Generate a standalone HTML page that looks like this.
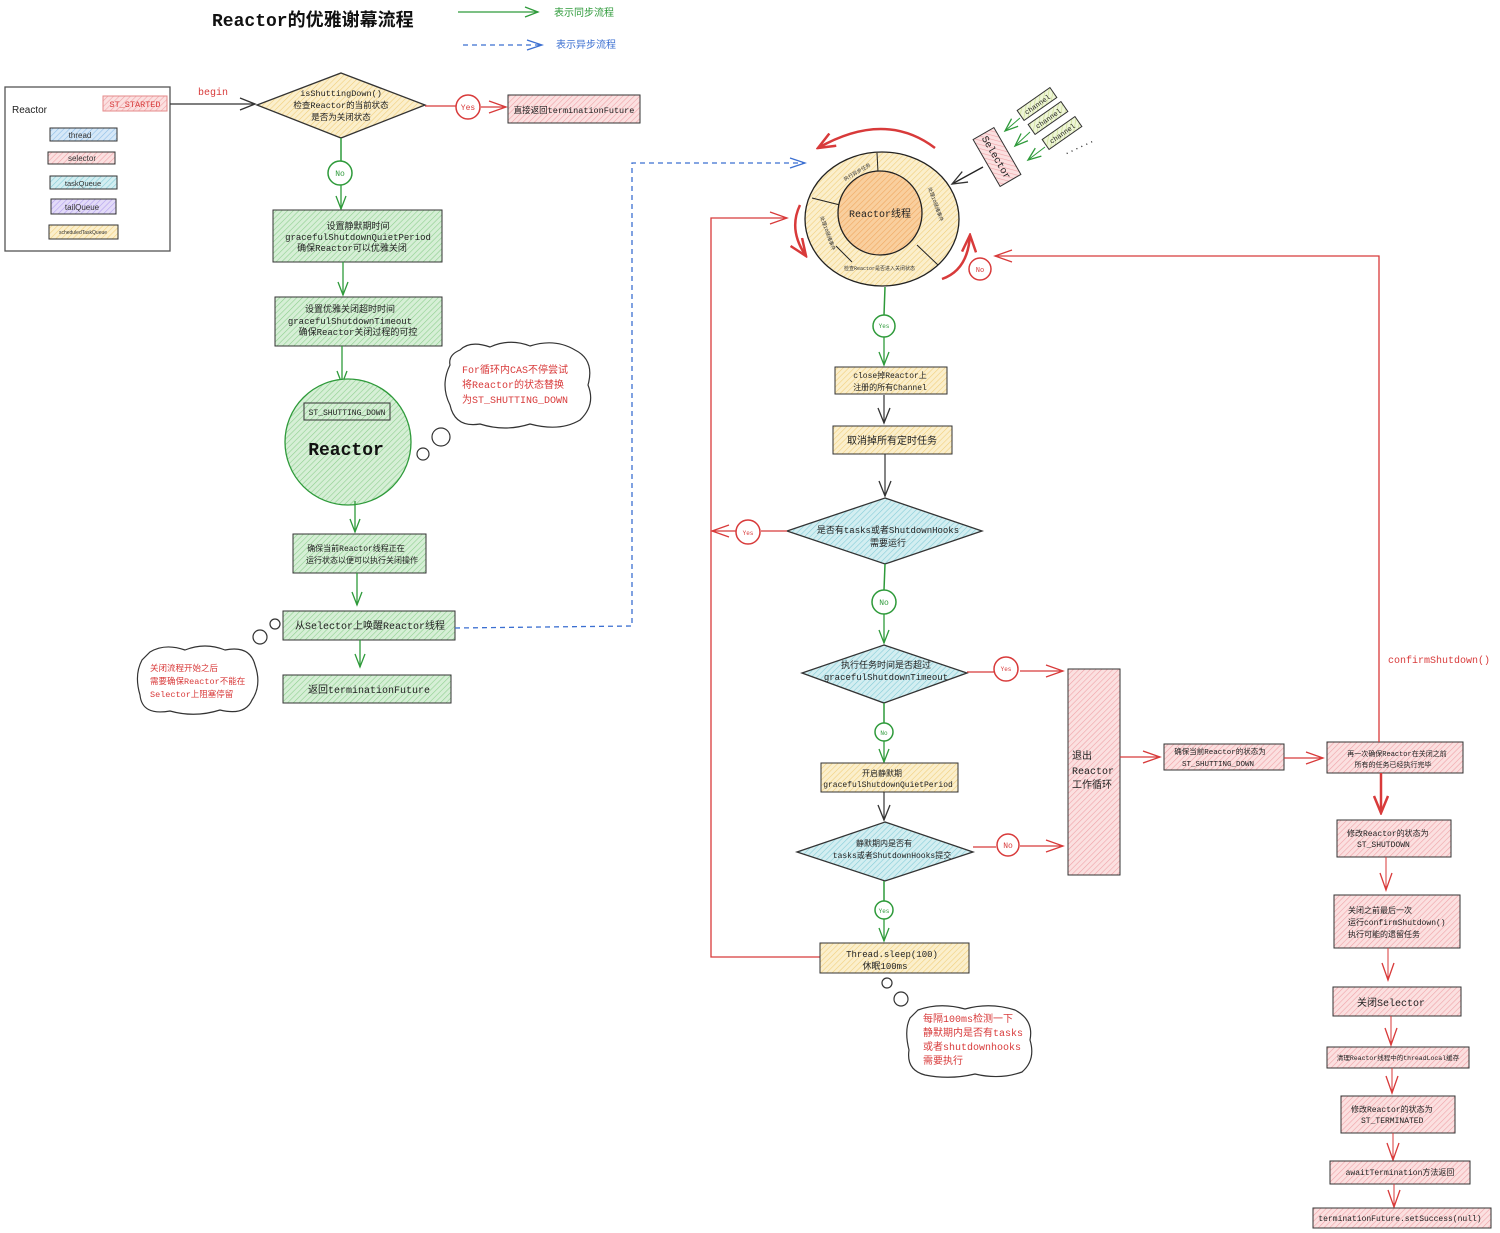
<!DOCTYPE html>
<html><head><meta charset="utf-8"><style>
html,body{margin:0;padding:0;background:#fff;}
svg{display:block;}
text{font-family:"Liberation Mono","Noto Sans CJK SC",monospace;}
.s{font-family:"Liberation Sans","Noto Sans CJK SC",sans-serif;}
</style></head><body>
<svg width="1500" height="1233" viewBox="0 0 1500 1233" xmlns="http://www.w3.org/2000/svg">
<defs>
<pattern id="hg" width="4" height="4" patternUnits="userSpaceOnUse" patternTransform="rotate(45)"><rect width="4" height="4" fill="#d6efd6"/><line x1="0" y1="0" x2="0" y2="4" stroke="#8fd08f" stroke-width="1.2"/></pattern>
<pattern id="hy" width="4" height="4" patternUnits="userSpaceOnUse" patternTransform="rotate(45)"><rect width="4" height="4" fill="#fbefcc"/><line x1="0" y1="0" x2="0" y2="4" stroke="#f1cf7c" stroke-width="1.2"/></pattern>
<pattern id="hp" width="4" height="4" patternUnits="userSpaceOnUse" patternTransform="rotate(45)"><rect width="4" height="4" fill="#fbe0e0"/><line x1="0" y1="0" x2="0" y2="4" stroke="#f0a3a8" stroke-width="1.2"/></pattern>
<pattern id="ht" width="4" height="4" patternUnits="userSpaceOnUse" patternTransform="rotate(45)"><rect width="4" height="4" fill="#d3eef1"/><line x1="0" y1="0" x2="0" y2="4" stroke="#86cdd8" stroke-width="1.2"/></pattern>
<pattern id="hb" width="4" height="4" patternUnits="userSpaceOnUse" patternTransform="rotate(45)"><rect width="4" height="4" fill="#d6e8f8"/><line x1="0" y1="0" x2="0" y2="4" stroke="#8fbfe8" stroke-width="1.2"/></pattern>
<pattern id="hv" width="4" height="4" patternUnits="userSpaceOnUse" patternTransform="rotate(45)"><rect width="4" height="4" fill="#e3dbf8"/><line x1="0" y1="0" x2="0" y2="4" stroke="#b3a0ee" stroke-width="1.2"/></pattern>
<pattern id="ho" width="4" height="4" patternUnits="userSpaceOnUse" patternTransform="rotate(45)"><rect width="4" height="4" fill="#f9cf9e"/><line x1="0" y1="0" x2="0" y2="4" stroke="#f0a860" stroke-width="1.2"/></pattern>
<pattern id="hlg" width="4" height="4" patternUnits="userSpaceOnUse" patternTransform="rotate(45)"><rect width="4" height="4" fill="#eef5d6"/><line x1="0" y1="0" x2="0" y2="4" stroke="#c8dc8c" stroke-width="1.2"/></pattern>
<marker id="ag" markerWidth="16" markerHeight="12" refX="14" refY="6" orient="auto" markerUnits="userSpaceOnUse"><path d="M1,1 L14,6 L1,11" fill="none" stroke="#2e9a3a" stroke-width="1.3"/></marker>
<marker id="ar" markerWidth="20" markerHeight="14" refX="18" refY="7" orient="auto" markerUnits="userSpaceOnUse"><path d="M1,1 L18,7 L1,13" fill="none" stroke="#d83a3a" stroke-width="1.3"/></marker>
<marker id="arb" markerWidth="20" markerHeight="16" refX="18" refY="8" orient="auto" markerUnits="userSpaceOnUse"><path d="M1,1 L18,8 L1,15" fill="none" stroke="#d83a3a" stroke-width="2.5"/></marker>
<marker id="ab" markerWidth="18" markerHeight="12" refX="16" refY="6" orient="auto" markerUnits="userSpaceOnUse"><path d="M1,1 L16,6 L1,11" fill="none" stroke="#3b6fd1" stroke-width="1.3"/></marker>
<marker id="ak" markerWidth="18" markerHeight="14" refX="16" refY="7" orient="auto" markerUnits="userSpaceOnUse"><path d="M1,1 L16,7 L1,13" fill="none" stroke="#333" stroke-width="1.3"/></marker>
</defs>

<!-- Title & legend -->
<text x="212" y="26" font-size="18" font-weight="bold" fill="#111">Reactor的优雅谢幕流程</text>
<line x1="458" y1="12" x2="538" y2="12" stroke="#2e9a3a" stroke-width="1.3" marker-end="url(#ag)"/>
<text x="554" y="16" font-size="10" fill="#2e9a3a">表示同步流程</text>
<line x1="463" y1="45" x2="542" y2="45" stroke="#3b6fd1" stroke-width="1.3" stroke-dasharray="5,4" marker-end="url(#ab)"/>
<text x="556" y="48" font-size="10" fill="#3b6fd1">表示异步流程</text>

<!-- Reactor box -->
<rect x="5" y="87" width="165" height="164" fill="#fff" stroke="#555" stroke-width="1.3"/>
<text x="12" y="113" font-size="10" class="s" fill="#222">Reactor</text>
<rect x="103" y="96" width="64" height="15" fill="url(#hp)" stroke="#e48a8a"/>
<text x="135" y="107" font-size="8.5" text-anchor="middle" fill="#d83a3a">ST_STARTED</text>
<rect x="50" y="128" width="67" height="13" fill="url(#hb)" stroke="#333"/>
<text x="80" y="138" font-size="8" class="s" text-anchor="middle" fill="#333">thread</text>
<rect x="48" y="152" width="67" height="12" fill="url(#hp)" stroke="#333"/>
<text x="82" y="161" font-size="8" class="s" text-anchor="middle" fill="#333">selector</text>
<rect x="50" y="176" width="67" height="13" fill="url(#ht)" stroke="#333"/>
<text x="83" y="186" font-size="7.5" class="s" text-anchor="middle" fill="#333">taskQueue</text>
<rect x="51" y="199" width="65" height="15" fill="url(#hv)" stroke="#333"/>
<text x="82" y="210" font-size="8" class="s" text-anchor="middle" fill="#333">tailQueue</text>
<rect x="49" y="225" width="69" height="14" fill="url(#hy)" stroke="#333"/>
<text x="83" y="234" font-size="5" class="s" text-anchor="middle" fill="#333">scheduledTaskQueue</text>

<text x="198" y="95" font-size="10" fill="#d83a3a">begin</text>
<line x1="170" y1="104" x2="255" y2="104" stroke="#333" stroke-width="1.2" marker-end="url(#ak)"/>

<!-- Diamond 1 -->
<polygon points="341,73 425,105 341,138 257,105" fill="url(#hy)" stroke="#333" stroke-width="1.3"/>
<text x="341" y="96" font-size="8.5" text-anchor="middle" fill="#222">isShuttingDown()</text>
<text x="341" y="108" font-size="8.5" text-anchor="middle" fill="#222">检查Reactor的当前状态</text>
<text x="341" y="120" font-size="8.5" text-anchor="middle" fill="#222">是否为关闭状态</text>
<line x1="425" y1="106" x2="456" y2="106" stroke="#d83a3a" stroke-width="1.3"/>
<circle cx="468" cy="107" r="12" fill="#fff" stroke="#d83a3a" stroke-width="1.5"/>
<text x="468" y="110" font-size="8" text-anchor="middle" fill="#d83a3a">Yes</text>
<line x1="481" y1="107" x2="506" y2="107" stroke="#d83a3a" stroke-width="1.3" marker-end="url(#ar)"/>
<rect x="508" y="95" width="132" height="28" fill="url(#hp)" stroke="#333"/>
<text x="574" y="113" font-size="8.5" text-anchor="middle" fill="#222">直接返回terminationFuture</text>

<line x1="341" y1="138" x2="341" y2="161" stroke="#2e9a3a" stroke-width="1.5"/>
<circle cx="340" cy="173" r="12" fill="#fff" stroke="#2e9a3a" stroke-width="1.5"/>
<text x="340" y="176" font-size="8" text-anchor="middle" fill="#2e9a3a">No</text>
<line x1="341" y1="185" x2="341" y2="209" stroke="#2e9a3a" stroke-width="1.3" marker-end="url(#ag)"/>

<rect x="273" y="210" width="169" height="52" fill="url(#hg)" stroke="#333"/>
<text x="358" y="229" font-size="9" text-anchor="middle" fill="#222">设置静默期时间</text>
<text x="358" y="240" font-size="9" text-anchor="middle" fill="#222">gracefulShutdownQuietPeriod</text>
<text x="352" y="251" font-size="9" text-anchor="middle" fill="#222">确保Reactor可以优雅关闭</text>
<line x1="343" y1="262" x2="343" y2="295" stroke="#2e9a3a" stroke-width="1.3" marker-end="url(#ag)"/>

<rect x="275" y="297" width="167" height="49" fill="url(#hg)" stroke="#333"/>
<text x="350" y="312" font-size="9" text-anchor="middle" fill="#222">设置优雅关闭超时时间</text>
<text x="350" y="324" font-size="9" text-anchor="middle" fill="#222">gracefulShutdownTimeout</text>
<text x="358" y="335" font-size="9" text-anchor="middle" fill="#222">确保Reactor关闭过程的可控</text>
<line x1="342" y1="346" x2="342" y2="384" stroke="#2e9a3a" stroke-width="1.3" marker-end="url(#ag)"/>

<circle cx="348" cy="442" r="63" fill="url(#hg)" stroke="#2e9a3a" stroke-width="1.3"/>
<rect x="304" y="403" width="86" height="17" fill="url(#hg)" stroke="#333"/>
<text x="347" y="415" font-size="8" text-anchor="middle" fill="#222">ST_SHUTTING_DOWN</text>
<text x="346" y="455" font-size="18" font-weight="bold" text-anchor="middle" fill="#111">Reactor</text>

<path d="M460,350 Q470,340 490,347 Q510,338 530,346 Q555,338 575,350 Q595,360 588,385 Q596,405 580,420 Q560,432 530,424 Q505,432 480,424 Q455,428 450,405 Q440,385 450,365 Q448,355 460,350Z" fill="#fff" stroke="#333" stroke-width="1.2"/>
<text x="462" y="373" font-size="10" fill="#d83a3a">For循环内CAS不停尝试</text>
<text x="462" y="388" font-size="10" fill="#d83a3a">将Reactor的状态替换</text>
<text x="462" y="403" font-size="10" fill="#d83a3a">为ST_SHUTTING_DOWN</text>
<circle cx="441" cy="437" r="9" fill="#fff" stroke="#333" stroke-width="1.2"/>
<circle cx="423" cy="454" r="6" fill="#fff" stroke="#333" stroke-width="1.2"/>

<line x1="355" y1="501" x2="355" y2="532" stroke="#2e9a3a" stroke-width="1.3" marker-end="url(#ag)"/>
<rect x="293" y="534" width="133" height="39" fill="url(#hg)" stroke="#333"/>
<text x="356" y="551" font-size="8" text-anchor="middle" fill="#222">确保当前Reactor线程正在</text>
<text x="362" y="563" font-size="8" text-anchor="middle" fill="#222">运行状态以便可以执行关闭操作</text>
<line x1="357" y1="573" x2="357" y2="605" stroke="#2e9a3a" stroke-width="1.3" marker-end="url(#ag)"/>

<rect x="283" y="611" width="172" height="29" fill="url(#hg)" stroke="#333"/>
<text x="370" y="629" font-size="10" text-anchor="middle" fill="#222">从Selector上唤醒Reactor线程</text>
<path d="M455,628 L632,626 L632,163 L805,163" fill="none" stroke="#3b6fd1" stroke-width="1.3" stroke-dasharray="5,4" marker-end="url(#ab)"/>
<line x1="360" y1="640" x2="360" y2="667" stroke="#2e9a3a" stroke-width="1.3" marker-end="url(#ag)"/>
<rect x="283" y="675" width="168" height="28" fill="url(#hg)" stroke="#333"/>
<text x="369" y="693" font-size="10" text-anchor="middle" fill="#222">返回terminationFuture</text>

<circle cx="275" cy="624" r="5" fill="#fff" stroke="#333" stroke-width="1.2"/>
<circle cx="260" cy="637" r="7" fill="#fff" stroke="#333" stroke-width="1.2"/>
<path d="M150,652 Q165,643 185,650 Q205,642 225,650 Q250,645 255,665 Q262,685 252,700 Q245,716 220,710 Q195,718 170,711 Q142,716 140,695 Q134,675 142,660Z" fill="#fff" stroke="#333" stroke-width="1.2"/>
<text x="150" y="671" font-size="8.5" fill="#d83a3a">关闭流程开始之后</text>
<text x="150" y="684" font-size="8.5" fill="#d83a3a">需要确保Reactor不能在</text>
<text x="150" y="697" font-size="8.5" fill="#d83a3a">Selector上阻塞停留</text>

<!-- Ring -->
<ellipse cx="882" cy="219" rx="77" ry="67" fill="url(#hy)" stroke="#222" stroke-width="1.3"/>
<line x1="877" y1="153" x2="878" y2="172" stroke="#222"/>
<line x1="812" y1="198" x2="840" y2="205" stroke="#222"/>
<line x1="836" y1="246" x2="852" y2="262" stroke="#222" />
<line x1="917" y1="245" x2="938" y2="265" stroke="#222"/>
<circle cx="880" cy="213" r="42" fill="url(#ho)" stroke="#222" stroke-width="1.3"/>
<text x="880" y="217" font-size="10" text-anchor="middle" fill="#222">Reactor线程</text>
<text x="845" y="181" font-size="5" fill="#333" transform="rotate(-30 845 181)">执行异步任务</text>
<text x="928" y="188" font-size="5" fill="#333" transform="rotate(70 928 188)">处理IO就绪事件</text>
<text x="820" y="217" font-size="5" fill="#333" transform="rotate(70 820 217)">处理IO就绪事件</text>
<text x="844" y="270" font-size="5" fill="#333">检查Reactor是否进入关闭状态</text>
<path d="M935,148 Q885,110 818,148" fill="none" stroke="#d83a3a" stroke-width="2.5" marker-end="url(#arb)"/>
<path d="M800,205 Q788,230 806,256" fill="none" stroke="#d83a3a" stroke-width="2.5" marker-end="url(#arb)"/>
<path d="M942,279 Q968,270 970,235" fill="none" stroke="#d83a3a" stroke-width="2.5" marker-end="url(#arb)"/>

<g transform="rotate(60 997 157)"><rect x="970" y="145" width="54" height="24" fill="url(#hp)" stroke="#333"/><text x="997" y="161" font-size="10" text-anchor="middle" fill="#222">Selector</text></g>
<line x1="983" y1="167" x2="952" y2="184" stroke="#222" stroke-width="1.3" marker-end="url(#ak)"/>
<g transform="rotate(-35 1037 104)"><rect x="1017" y="98" width="40" height="12" fill="url(#hlg)" stroke="#333"/><text x="1037" y="107" font-size="7" text-anchor="middle" fill="#222">channel</text></g>
<g transform="rotate(-35 1048 118)"><rect x="1028" y="112" width="40" height="12" fill="url(#hlg)" stroke="#333"/><text x="1048" y="121" font-size="7" text-anchor="middle" fill="#222">channel</text></g>
<g transform="rotate(-35 1062 133)"><rect x="1042" y="127" width="40" height="12" fill="url(#hlg)" stroke="#333"/><text x="1062" y="136" font-size="7" text-anchor="middle" fill="#222">channel</text></g>
<line x1="1020" y1="118" x2="1005" y2="131" stroke="#2e9a3a" marker-end="url(#ag)"/>
<line x1="1030" y1="132" x2="1015" y2="146" stroke="#2e9a3a" marker-end="url(#ag)"/>
<line x1="1045" y1="147" x2="1028" y2="160" stroke="#2e9a3a" marker-end="url(#ag)"/>
<text x="1065" y="155" font-size="9" fill="#222" transform="rotate(-25 1065 155)">......</text>

<line x1="885" y1="287" x2="884" y2="315" stroke="#2e9a3a" stroke-width="1.5"/>
<circle cx="884" cy="326" r="11" fill="#fff" stroke="#2e9a3a" stroke-width="1.5"/>
<text x="884" y="328" font-size="6" text-anchor="middle" fill="#2e9a3a">Yes</text>
<line x1="884" y1="337" x2="884" y2="365" stroke="#2e9a3a" stroke-width="1.3" marker-end="url(#ag)"/>
<rect x="835" y="367" width="112" height="27" fill="url(#hy)" stroke="#333"/>
<text x="890" y="378" font-size="8" text-anchor="middle" fill="#222">close掉Reactor上</text>
<text x="890" y="390" font-size="8" text-anchor="middle" fill="#222">注册的所有Channel</text>
<line x1="884" y1="395" x2="884" y2="423" stroke="#333" stroke-width="1.2" marker-end="url(#ak)"/>
<rect x="833" y="426" width="119" height="28" fill="url(#hy)" stroke="#333"/>
<text x="892" y="444" font-size="10" text-anchor="middle" fill="#222">取消掉所有定时任务</text>
<line x1="885" y1="454" x2="885" y2="496" stroke="#333" stroke-width="1.2" marker-end="url(#ak)"/>

<polygon points="885,498 982,531 885,564 787,531" fill="url(#ht)" stroke="#333" stroke-width="1.3"/>
<text x="888" y="533" font-size="9" text-anchor="middle" fill="#222">是否有tasks或者ShutdownHooks</text>
<text x="888" y="546" font-size="9" text-anchor="middle" fill="#222">需要运行</text>
<line x1="787" y1="531" x2="761" y2="531" stroke="#d83a3a" stroke-width="1.3"/>
<circle cx="748" cy="532" r="12" fill="#fff" stroke="#d83a3a" stroke-width="1.5"/>
<text x="748" y="535" font-size="6" text-anchor="middle" fill="#d83a3a">Yes</text>
<line x1="736" y1="531" x2="712" y2="531" stroke="#d83a3a" stroke-width="1.3" marker-end="url(#ar)"/>
<path d="M820,957 L711,957 L711,218 L787,218" fill="none" stroke="#d83a3a" stroke-width="1.3" marker-end="url(#ar)"/>

<line x1="885" y1="564" x2="884" y2="590" stroke="#2e9a3a" stroke-width="1.5"/>
<circle cx="884" cy="602" r="12" fill="#fff" stroke="#2e9a3a" stroke-width="1.5"/>
<text x="884" y="605" font-size="8" text-anchor="middle" fill="#2e9a3a">No</text>
<line x1="884" y1="614" x2="884" y2="643" stroke="#2e9a3a" stroke-width="1.3" marker-end="url(#ag)"/>

<polygon points="884,645 967,673 884,703 802,673" fill="url(#ht)" stroke="#333" stroke-width="1.3"/>
<text x="886" y="668" font-size="9" text-anchor="middle" fill="#222">执行任务时间是否超过</text>
<text x="886" y="680" font-size="9" text-anchor="middle" fill="#222">gracefulShutdownTimeout</text>
<line x1="967" y1="672" x2="994" y2="672" stroke="#d83a3a" stroke-width="1.3"/>
<circle cx="1006" cy="669" r="12" fill="#fff" stroke="#d83a3a" stroke-width="1.5"/>
<text x="1006" y="671" font-size="6" text-anchor="middle" fill="#d83a3a">Yes</text>
<line x1="1020" y1="671" x2="1063" y2="671" stroke="#d83a3a" stroke-width="1.3" marker-end="url(#ar)"/>

<line x1="884" y1="703" x2="884" y2="723" stroke="#2e9a3a" stroke-width="1.5"/>
<circle cx="884" cy="732" r="9" fill="#fff" stroke="#2e9a3a" stroke-width="1.5"/>
<text x="884" y="735" font-size="6" text-anchor="middle" fill="#2e9a3a">No</text>
<line x1="884" y1="741" x2="884" y2="762" stroke="#2e9a3a" stroke-width="1.3" marker-end="url(#ag)"/>
<rect x="821" y="763" width="137" height="29" fill="url(#hy)" stroke="#333"/>
<text x="882" y="776" font-size="8" text-anchor="middle" fill="#222">开启静默期</text>
<text x="888" y="787" font-size="8" text-anchor="middle" fill="#222">gracefulShutdownQuietPeriod</text>
<line x1="884" y1="792" x2="884" y2="820" stroke="#333" stroke-width="1.2" marker-end="url(#ak)"/>

<polygon points="885,822 973,852 885,881 797,852" fill="url(#ht)" stroke="#333" stroke-width="1.3"/>
<text x="884" y="846" font-size="8" text-anchor="middle" fill="#222">静默期内是否有</text>
<text x="892" y="858" font-size="8" text-anchor="middle" fill="#222">tasks或者ShutdownHooks提交</text>
<line x1="973" y1="847" x2="996" y2="847" stroke="#d83a3a" stroke-width="1.3"/>
<circle cx="1008" cy="845" r="11" fill="#fff" stroke="#d83a3a" stroke-width="1.5"/>
<text x="1008" y="848" font-size="8" text-anchor="middle" fill="#d83a3a">No</text>
<line x1="1020" y1="846" x2="1063" y2="846" stroke="#d83a3a" stroke-width="1.3" marker-end="url(#ar)"/>

<line x1="884" y1="881" x2="884" y2="901" stroke="#2e9a3a" stroke-width="1.5"/>
<circle cx="884" cy="910" r="9" fill="#fff" stroke="#2e9a3a" stroke-width="1.5"/>
<text x="884" y="913" font-size="6" text-anchor="middle" fill="#2e9a3a">Yes</text>
<line x1="884" y1="919" x2="884" y2="941" stroke="#2e9a3a" stroke-width="1.3" marker-end="url(#ag)"/>
<rect x="820" y="943" width="149" height="30" fill="url(#hy)" stroke="#333"/>
<text x="892" y="957" font-size="9" text-anchor="middle" fill="#222">Thread.sleep(100)</text>
<text x="885" y="969" font-size="9" text-anchor="middle" fill="#222">休眠100ms</text>

<circle cx="887" cy="983" r="5" fill="#fff" stroke="#333" stroke-width="1.2"/>
<circle cx="901" cy="999" r="7" fill="#fff" stroke="#333" stroke-width="1.2"/>
<path d="M918,1010 Q940,1002 965,1009 Q990,1002 1015,1010 Q1034,1020 1030,1040 Q1036,1060 1022,1072 Q1000,1080 975,1074 Q950,1080 925,1075 Q906,1070 909,1050 Q904,1030 910,1018Z" fill="#fff" stroke="#333" stroke-width="1.2"/>
<text x="923" y="1022" font-size="10" fill="#d83a3a">每隔100ms检测一下</text>
<text x="923" y="1036" font-size="10" fill="#d83a3a">静默期内是否有tasks</text>
<text x="923" y="1050" font-size="10" fill="#d83a3a">或者shutdownhooks</text>
<text x="923" y="1064" font-size="10" fill="#d83a3a">需要执行</text>

<rect x="1068" y="669" width="52" height="206" fill="url(#hp)" stroke="#333"/>
<text x="1072" y="759" font-size="10" fill="#222">退出</text>
<text x="1072" y="774" font-size="10" fill="#222">Reactor</text>
<text x="1072" y="788" font-size="10" fill="#222">工作循环</text>
<line x1="1120" y1="757" x2="1160" y2="757" stroke="#d83a3a" stroke-width="1.3" marker-end="url(#ar)"/>
<rect x="1164" y="744" width="120" height="26" fill="url(#hp)" stroke="#333"/>
<text x="1220" y="754" font-size="7.5" text-anchor="middle" fill="#222">确保当前Reactor的状态为</text>
<text x="1218" y="766" font-size="7.5" text-anchor="middle" fill="#222">ST_SHUTTING_DOWN</text>
<line x1="1284" y1="758" x2="1323" y2="758" stroke="#d83a3a" stroke-width="1.3" marker-end="url(#ar)"/>
<rect x="1327" y="742" width="136" height="31" fill="url(#hp)" stroke="#333"/>
<text x="1397" y="756" font-size="7" text-anchor="middle" fill="#222">再一次确保Reactor在关闭之前</text>
<text x="1393" y="767" font-size="7" text-anchor="middle" fill="#222">所有的任务已经执行完毕</text>
<path d="M1379,742 L1379,256 L995,256" fill="none" stroke="#d83a3a" stroke-width="1.3" marker-end="url(#ar)"/>
<text x="1388" y="663" font-size="10" fill="#d83a3a">confirmShutdown()</text>
<circle cx="980" cy="269" r="11" fill="#fff" stroke="#d83a3a" stroke-width="1.5"/>
<text x="980" y="272" font-size="7" text-anchor="middle" fill="#d83a3a">No</text>

<line x1="1381" y1="773" x2="1381" y2="813" stroke="#d83a3a" stroke-width="2.5" marker-end="url(#arb)"/>
<rect x="1337" y="820" width="114" height="37" fill="url(#hp)" stroke="#333"/>
<text x="1347" y="836" font-size="8" fill="#222">修改Reactor的状态为</text>
<text x="1357" y="847" font-size="8" fill="#222">ST_SHUTDOWN</text>
<line x1="1386" y1="857" x2="1386" y2="890" stroke="#d83a3a" stroke-width="1" marker-end="url(#ar)"/>
<rect x="1334" y="895" width="126" height="53" fill="url(#hp)" stroke="#333"/>
<text x="1348" y="913" font-size="8" fill="#222">关闭之前最后一次</text>
<text x="1348" y="925" font-size="8" fill="#222">运行confirmShutdown()</text>
<text x="1348" y="937" font-size="8" fill="#222">执行可能的遗留任务</text>
<line x1="1388" y1="948" x2="1388" y2="980" stroke="#d83a3a" stroke-width="1" marker-end="url(#ar)"/>
<rect x="1333" y="987" width="128" height="29" fill="url(#hp)" stroke="#333"/>
<text x="1391" y="1006" font-size="10" text-anchor="middle" fill="#222">关闭Selector</text>
<line x1="1391" y1="1016" x2="1391" y2="1045" stroke="#d83a3a" stroke-width="1" marker-end="url(#ar)"/>
<rect x="1327" y="1047" width="142" height="21" fill="url(#hp)" stroke="#333"/>
<text x="1398" y="1060" font-size="6.5" text-anchor="middle" fill="#222">清理Reactor线程中的threadLocal缓存</text>
<line x1="1392" y1="1068" x2="1392" y2="1093" stroke="#d83a3a" stroke-width="1" marker-end="url(#ar)"/>
<rect x="1341" y="1096" width="114" height="37" fill="url(#hp)" stroke="#333"/>
<text x="1351" y="1112" font-size="8" fill="#222">修改Reactor的状态为</text>
<text x="1361" y="1123" font-size="8" fill="#222">ST_TERMINATED</text>
<line x1="1393" y1="1133" x2="1393" y2="1160" stroke="#d83a3a" stroke-width="1" marker-end="url(#ar)"/>
<rect x="1330" y="1161" width="140" height="23" fill="url(#hp)" stroke="#333"/>
<text x="1400" y="1175" font-size="8" text-anchor="middle" fill="#222">awaitTermination方法返回</text>
<line x1="1394" y1="1184" x2="1394" y2="1207" stroke="#d83a3a" stroke-width="1" marker-end="url(#ar)"/>
<rect x="1313" y="1208" width="178" height="20" fill="url(#hp)" stroke="#333"/>
<text x="1400" y="1221" font-size="8" text-anchor="middle" fill="#222">terminationFuture.setSuccess(null)</text>
</svg>
</body></html>
